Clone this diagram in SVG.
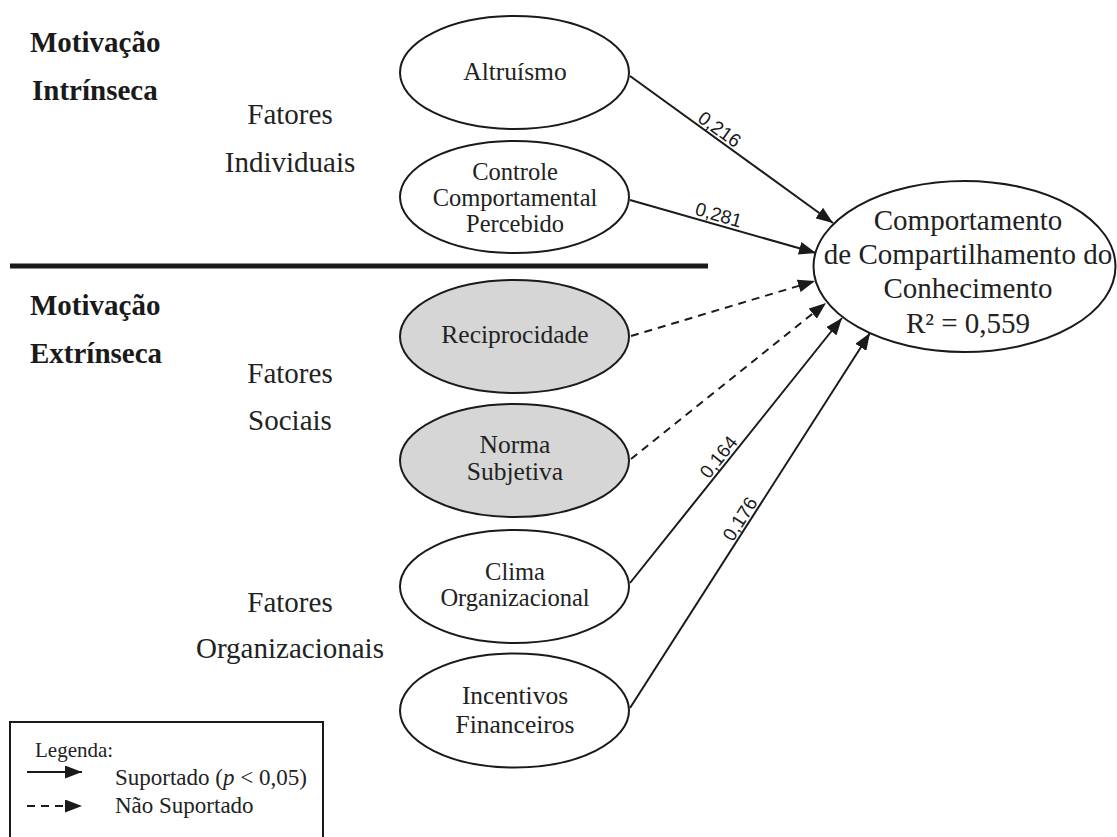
<svg xmlns="http://www.w3.org/2000/svg" width="1117" height="837" viewBox="0 0 1117 837">
  <style>
    .bg { fill: #ffffff; }
    .node { fill: #ffffff; stroke: #1a1a1a; stroke-width: 2; }
    .node.grey { fill: #d6d6d6; }
    .lbl { font-family: "Liberation Serif", "Times New Roman", serif; font-size: 25.5px; fill: #222; text-anchor: middle; }
    .lbl.tight { font-size: 24.5px; }
    .big { font-family: "Liberation Serif", "Times New Roman", serif; font-size: 29px; fill: #222; text-anchor: middle; }
    .side { font-family: "Liberation Serif", "Times New Roman", serif; font-size: 29px; fill: #222; text-anchor: middle; }
    .title { font-family: "Liberation Serif", "Times New Roman", serif; font-size: 29px; font-weight: bold; fill: #1a1a1a; }
    .coef { font-family: "Liberation Sans", Arial, sans-serif; font-size: 19px; fill: #1a1a1a; text-anchor: middle; }
    .leg { font-family: "Liberation Serif", "Times New Roman", serif; font-size: 21px; fill: #222; }
    .leg.item { font-size: 23px; }
    .edge { fill: none; stroke: #1a1a1a; stroke-width: 2; marker-end: url(#head); }
    .dash { stroke-dasharray: 8 6; }
  </style>
  <defs>
    <marker id="head" markerUnits="userSpaceOnUse" markerWidth="18" markerHeight="13" refX="17" refY="6.5" orient="auto">
      <path d="M0,0 L17,6.5 L0,13 z" fill="#1a1a1a"/>
    </marker>
  </defs>

  <rect class="bg" x="0" y="0" width="1117" height="837"/>

  <!-- section titles -->
  <g id="titles">
    <text class="title" x="30" y="52">Motivação</text>
    <text class="title" x="32" y="100">Intrínseca</text>
    <text class="title" x="30" y="315">Motivação</text>
    <text class="title" x="30" y="363">Extrínseca</text>
    <text class="side" x="290" y="124">Fatores</text>
    <text class="side" x="290" y="172">Individuais</text>
    <text class="side" x="290" y="383">Fatores</text>
    <text class="side" x="290" y="430">Sociais</text>
    <text class="side" x="290" y="612">Fatores</text>
    <text class="side" x="290" y="658">Organizacionais</text>
  </g>

  <!-- divider between intrinsic and extrinsic motivation -->
  <line x1="10" y1="266" x2="708" y2="266" stroke="#1a1a1a" stroke-width="5"/>

  <!-- connectors -->
  <g id="connectors">
    <line class="edge" x1="630" y1="76" x2="833" y2="223"/>
    <line class="edge" x1="630" y1="200" x2="816" y2="253"/>
    <line class="edge dash" x1="631" y1="336" x2="815" y2="281"/>
    <line class="edge dash" x1="631" y1="459" x2="826" y2="303"/>
    <line class="edge" x1="630" y1="583" x2="842" y2="318"/>
    <line class="edge" x1="630" y1="708" x2="870" y2="333"/>
    <text class="coef" transform="translate(714,137) rotate(35.9)" y="-3">0,216</text>
    <text class="coef" transform="translate(716,224) rotate(15.9)" y="-3">0,281</text>
    <text class="coef" transform="translate(726,463) rotate(-51.3)" y="-3">0,164</text>
    <text class="coef" transform="translate(748,524) rotate(-57.4)" y="-3">0,176</text>
  </g>

  <g id="altruismo">
    <ellipse class="node" cx="514.5" cy="72.5" rx="114.5" ry="56.5"/>
    <text class="lbl" x="515" y="80">Altruísmo</text>
  </g>
  <g id="controle">
    <ellipse class="node" cx="514.5" cy="197" rx="114.5" ry="56"/>
    <text class="lbl tight" x="515" y="180">Controle</text>
    <text class="lbl tight" x="515" y="206">Comportamental</text>
    <text class="lbl tight" x="515" y="232">Percebido</text>
  </g>
  <g id="reciprocidade">
    <ellipse class="node grey" cx="514.5" cy="336.5" rx="114.5" ry="56.5"/>
    <text class="lbl" x="515" y="343">Reciprocidade</text>
  </g>
  <g id="norma">
    <ellipse class="node grey" cx="514.5" cy="460.5" rx="114.5" ry="56.5"/>
    <text class="lbl" x="515" y="453">Norma</text>
    <text class="lbl" x="515" y="480">Subjetiva</text>
  </g>
  <g id="clima">
    <ellipse class="node" cx="514.5" cy="586.5" rx="114.5" ry="56.5"/>
    <text class="lbl tight" x="515" y="580">Clima</text>
    <text class="lbl tight" x="515" y="606">Organizacional</text>
  </g>
  <g id="incentivos">
    <ellipse class="node" cx="514.5" cy="710.5" rx="114.5" ry="57"/>
    <text class="lbl" x="515" y="704">Incentivos</text>
    <text class="lbl" x="515" y="733">Financeiros</text>
  </g>
  <g id="comportamento">
    <ellipse class="node" cx="964.5" cy="266.5" rx="151" ry="85.5"/>
    <text class="big" x="968" y="230">Comportamento</text>
    <text class="big" x="968" y="264">de Compartilhamento do</text>
    <text class="big" x="968" y="298">Conhecimento</text>
    <text class="big" x="968" y="333">R² = 0,559</text>
  </g>

  <!-- legend -->
  <g id="legend">
    <rect x="10" y="722" width="313" height="130" fill="#ffffff" stroke="#1a1a1a" stroke-width="2"/>
    <text class="leg" x="35" y="757">Legenda:</text>
    <line class="edge" x1="27" y1="772" x2="82" y2="772"/>
    <line class="edge dash" x1="27" y1="806" x2="82" y2="806"/>
    <text class="leg item" x="115" y="785">Suportado (<tspan font-style="italic">p</tspan> &lt; 0,05)</text>
    <text class="leg item" x="115" y="813">Não Suportado</text>
  </g>
</svg>
